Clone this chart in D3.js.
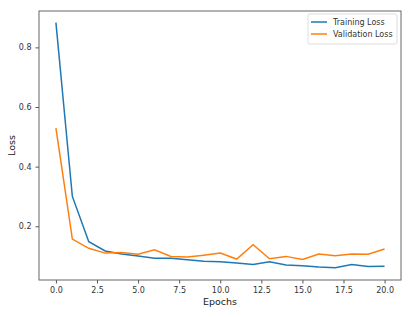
<!DOCTYPE html>
<html>
<head>
<meta charset="utf-8">
<script src="https://d3js.org/d3.v7.min.js"></script>
<style>
  body { margin: 0; background: #fff; }
  text { font-family: "DejaVu Sans", sans-serif; }
</style>
</head>
<body>
<div id="chart"></div>
<script>
// data
var epochs = d3.range(0, 21);
var trainLoss = [0.883, 0.300, 0.148, 0.117, 0.107, 0.100, 0.093, 0.093, 0.088, 0.083,
                 0.081, 0.077, 0.072, 0.081, 0.070, 0.068, 0.063, 0.061, 0.072, 0.065, 0.066];
var valLoss = [0.529, 0.157, 0.126, 0.110, 0.112, 0.106, 0.121, 0.099, 0.097, 0.103,
               0.110, 0.090, 0.138, 0.091, 0.099, 0.089, 0.107, 0.101, 0.107, 0.106, 0.124];
var xTicks = [0, 2.5, 5, 7.5, 10, 12.5, 15, 17.5, 20];
var yTicks = [0.2, 0.4, 0.6, 0.8];
var seriesNames = ["Training Loss", "Validation Loss"];
var colors = ["#1f77b4", "#ff7f0e"];

var W = 413, H = 317;
var margin = {top: 11, right: 12, bottom: 37, left: 39},
    width = W - margin.left - margin.right,
    height = H - margin.top - margin.bottom;

var svg = d3.select("#chart").append("svg")
    .attr("width", W).attr("height", H)
  .append("g")
    .attr("transform", "translate(" + margin.left + "," + margin.top + ")");

var x = d3.scaleLinear().domain([-1.03, 21.0]).range([0, width]);
var y = d3.scaleLinear().domain([0.0198, 0.922]).range([height, 0]);

// axes
var xAxis = svg.append("g")
    .attr("transform", "translate(0," + height + ")")
    .call(d3.axisBottom(x).tickValues(xTicks).tickFormat(d3.format(".1f")).tickSizeOuter(0).tickSize(3.5).tickPadding(4));
var yAxis = svg.append("g")
    .call(d3.axisLeft(y).tickValues(yTicks).tickFormat(d3.format(".1f")).tickSizeOuter(0).tickSize(3.5).tickPadding(4));
[xAxis, yAxis].forEach(function(a) {
  a.select(".domain").remove();
  a.selectAll("line").attr("stroke", "#555");
  a.selectAll("text").attr("fill", "#333").style("font-size", "8px");
});

// lines
var line = d3.line().x(function(d, i) { return x(epochs[i]); }).y(function(d) { return y(d); });
[trainLoss, valLoss].forEach(function(s, k) {
  svg.append("path").datum(s)
    .attr("fill", "none")
    .attr("stroke", colors[k])
    .attr("stroke-width", 1.5)
    .attr("d", line);
});

// frame
svg.append("rect")
    .attr("width", width).attr("height", height)
    .attr("fill", "none").attr("stroke", "#666").attr("stroke-width", 1);

// axis labels
svg.append("text")
    .attr("x", width / 2).attr("y", height + 25)
    .attr("text-anchor", "middle")
    .style("font-size", "9.5px").attr("fill", "#222")
    .text("Epochs");
svg.append("text")
    .attr("transform", "rotate(-90)")
    .attr("x", -height / 2).attr("y", -24)
    .attr("text-anchor", "middle")
    .style("font-size", "9.5px").attr("fill", "#222")
    .text("Loss");

// legend
var lg = svg.append("g").attr("transform", "translate(" + (width - 93) + ",3)");
lg.append("rect")
    .attr("width", 89).attr("height", 30).attr("rx", 2)
    .attr("fill", "#fff").attr("stroke", "#ddd");
seriesNames.forEach(function(n, i) {
  lg.append("line")
    .attr("x1", 3).attr("x2", 19)
    .attr("y1", 8 + i * 12).attr("y2", 8 + i * 12)
    .attr("stroke", colors[i]).attr("stroke-width", 1.5);
  lg.append("text")
    .attr("x", 25).attr("y", 11 + i * 12)
    .style("font-size", "8px").attr("fill", "#333")
    .text(n);
});
</script>
</body>
</html>
